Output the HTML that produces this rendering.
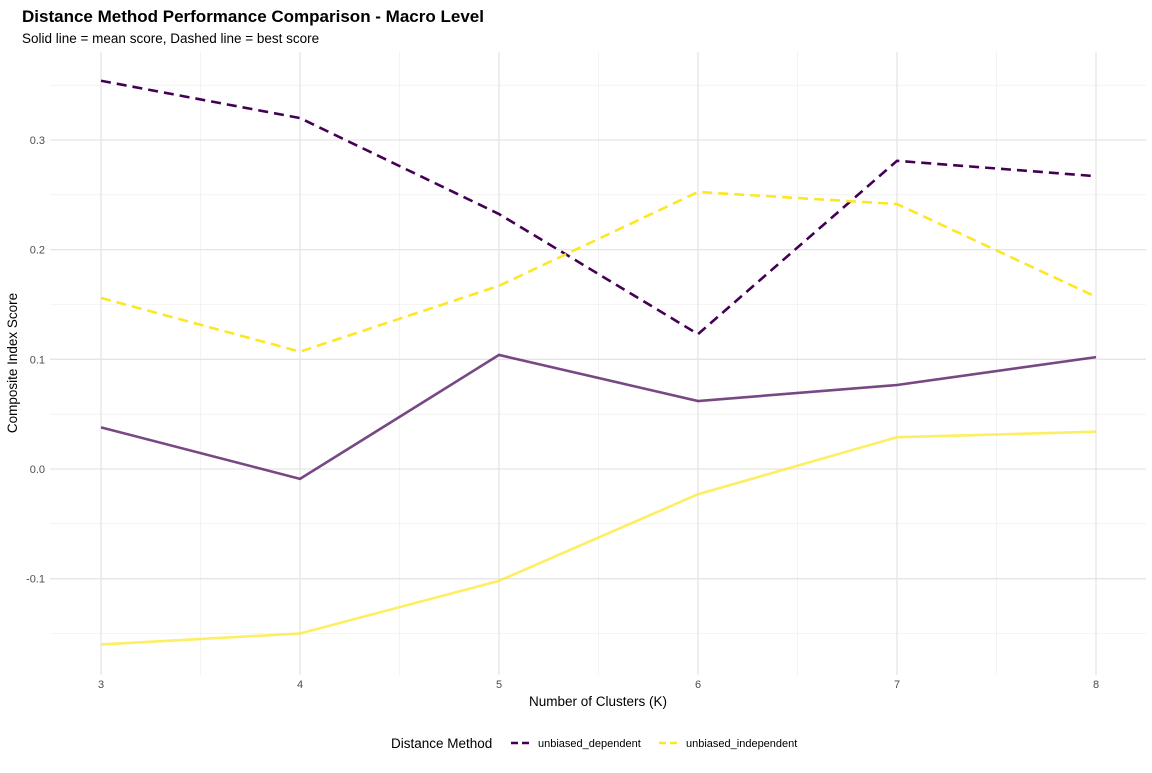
<!DOCTYPE html>
<html><head><meta charset="utf-8"><style>
body{margin:0;background:#fff;font-family:"Liberation Sans",sans-serif;}
</style></head><body>
<svg id="chart" width="1152" height="768" xmlns="http://www.w3.org/2000/svg" font-family="Liberation Sans, sans-serif">
<rect width="1152" height="768" fill="#fff"/>
<text x="22" y="22" font-size="17" font-weight="bold" fill="#000">Distance Method Performance Comparison - Macro Level</text>
<text x="22" y="43" font-size="13.5" fill="#000">Solid line = mean score, Dashed line = best score</text>
<g id="grid"></g>
<g id="marks"></g>
<g id="axes"></g>
<text x="598" y="706" font-size="13.5" text-anchor="middle">Number of Clusters (K)</text>
<text transform="translate(17,363) rotate(-90)" font-size="13.5" text-anchor="middle">Composite Index Score</text>
<g>
<text x="391" y="748" font-size="13.5">Distance Method</text>
<g>
<line x1="511" y1="743" x2="533" y2="743" stroke="#440154" stroke-width="2.5" stroke-dasharray="7,4"/>
<text x="538" y="747" font-size="11">unbiased_dependent</text></g>
<g>
<line x1="659" y1="743" x2="681" y2="743" stroke="#FDE725" stroke-width="2.5" stroke-dasharray="7,4"/>
<text x="686" y="747" font-size="11">unbiased_independent</text></g>
</g>
</svg>
<script>
const categories=[3,4,5,6,7,8];
const depBest=[0.354,0.320,0.2325,0.123,0.281,0.267];
const indBest=[0.156,0.107,0.167,0.2526,0.2416,0.157];
const depMean=[0.038,-0.009,0.104,0.062,0.0766,0.102];
const indMean=[-0.160,-0.150,-0.102,-0.023,0.029,0.034];
const yTicks=[-0.1,0.0,0.1,0.2,0.3];
const yTickLabels=["-0.1","0.0","0.1","0.2","0.3"];
const NS="http://www.w3.org/2000/svg";
const X=k=>101+(k-3)*199;
const Y=v=>469-v*1096.7;
const L=50,R=1146,T=52,B=675;
function mk(tag,attrs,parent){const e=document.createElementNS(NS,tag);for(const k in attrs)e.setAttribute(k,attrs[k]);parent.appendChild(e);return e;}
const grid=document.getElementById('grid'),axes=document.getElementById('axes'),marks=document.getElementById('marks');
for(let k=3.5;k<=7.5;k+=1){const g=mk('line',{x1:X(k),x2:X(k),y1:T,y2:B,stroke:'#ebebeb','stroke-width':0.6},grid);
}
for(let v=-0.15;v<=0.36;v+=0.1){const g=mk('line',{x1:L,x2:R,y1:Y(v),y2:Y(v),stroke:'#ebebeb','stroke-width':0.6},grid);
}
categories.forEach(k=>{const g=mk('line',{x1:X(k),x2:X(k),y1:T,y2:B,stroke:'#e5e5e5','stroke-width':1.3},grid);

const t=mk('text',{x:X(k),y:688,'font-size':11,'text-anchor':'middle',fill:'#4d4d4d'},axes);t.textContent=k;
});
yTicks.forEach((v,i)=>{const g=mk('line',{x1:L,x2:R,y1:Y(v),y2:Y(v),stroke:'#e5e5e5','stroke-width':1.3},grid);

const t=mk('text',{x:45,y:Y(v)+4,'font-size':11,'text-anchor':'end',fill:'#4d4d4d'},axes);t.textContent=yTickLabels[i];
});
function line(vals,color,dash,name,op){const p=vals.map((v,i)=>X(categories[i])+','+Y(v)).join(' ');
const e=mk('polyline',{points:p,fill:'none',stroke:color,'stroke-width':2.6,'stroke-opacity':op},marks);
if(dash)e.setAttribute('stroke-dasharray','10,6');
}
line(depMean,'#440154',false,'dependent-mean-line',0.72);
line(indMean,'#FDE725',false,'independent-mean-line',0.72);
line(depBest,'#440154',true,'dependent-best-line',1);
line(indBest,'#FDE725',true,'independent-best-line',1);
</script>
</body></html>
